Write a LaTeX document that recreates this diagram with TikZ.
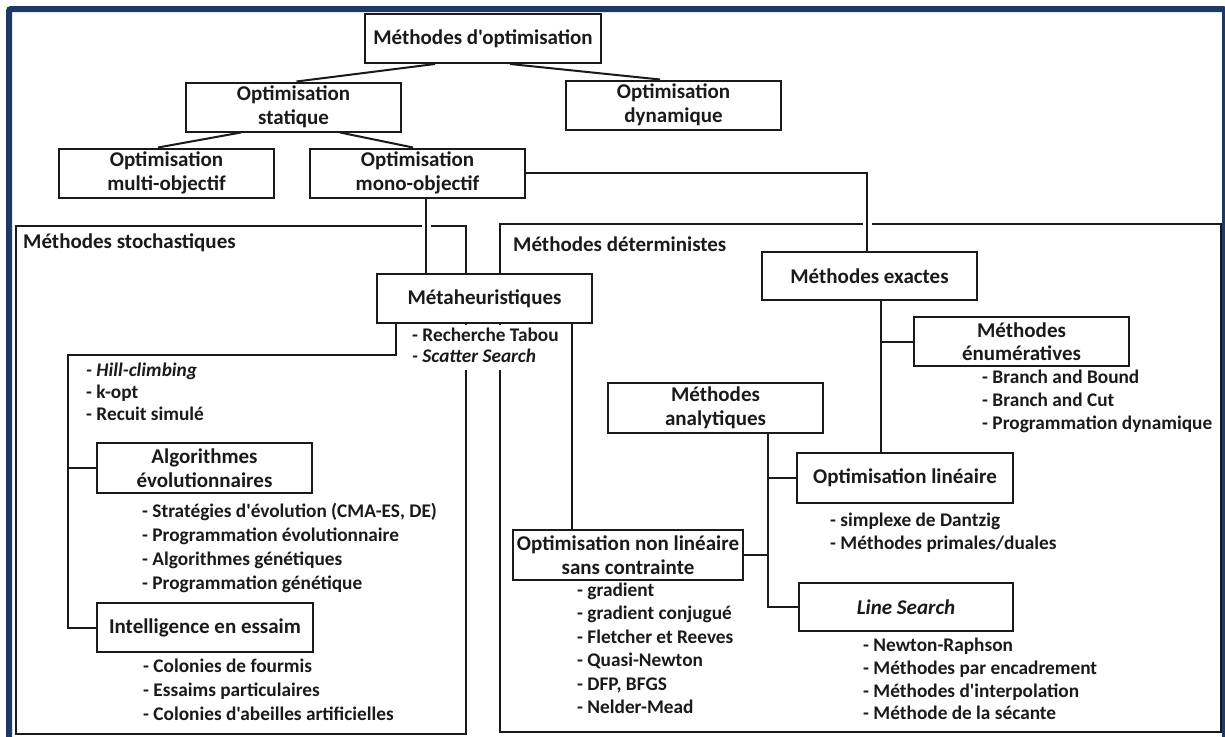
\documentclass[tikz,border=0pt]{standalone}
\usepackage{fontspec}
\setmainfont{Carlito}[Ligatures=TeXOff]
\usetikzlibrary{calc}
\definecolor{navy}{HTML}{1F3864}
\definecolor{ink}{HTML}{1A1A1A}
\pgfdeclarelayer{bgfill}\pgfdeclarelayer{bg}\pgfdeclarelayer{mid}\pgfsetlayers{bgfill,bg,mid,main}
\newcommand\bxfont{\fontsize{21}{23.5}\selectfont\bfseries}
\newcommand\lsfont{\fontsize{19.3}{22}\selectfont\bfseries}
\begin{document}
\begin{tikzpicture}[x=1pt,y=-1pt,
  box/.style={draw=ink, line width=2pt, fill=white, minimum width=215pt, minimum height=49pt, inner xsep=3pt, inner ysep=1pt, align=center, font=\bxfont, text=ink},
  item/.style={anchor=west, inner sep=0pt, font=\lsfont, text=ink, text height=13pt, text depth=4pt},
  conn/.style={draw=ink, line width=2pt},
  halo/.style={preaction={draw=white, line width=9pt}},
  cont/.style={draw=ink, line width=2pt, inner sep=0pt, anchor=north west},
  title/.style={anchor=west, inner sep=0pt, font=\bxfont, text=ink}]
\useasboundingbox (0,0) rectangle (1225,736);
\clip (0,0) rectangle (1225,736);
\begin{pgfonlayer}{bgfill}
\fill[white] (0,0) rectangle (1225,736);
\end{pgfonlayer}
\draw[navy, line width=6pt, rounded corners=2pt] (9,9) rectangle (1225,750);

% boxes
\node[box, minimum width=236pt] (top) at (483,38.5) {Méthodes d'optimisation};
\node[box] (stat) at (293.5,107) {Optimisation\\statique};
\node[box] (dyn) at (673.5,105) {Optimisation\\dynamique};
\node[box] (multi) at (166.5,173) {Optimisation\\multi-objectif};
\node[box] (mono) at (417.5,173) {Optimisation\\mono-objectif};
\node[box] (meta) at (484.5,298.5) {Métaheuristiques};
\node[box, minimum height=48pt] (exact) at (869.5,276) {Méthodes exactes};
\node[box] (enum) at (1021.5,341.5) {Méthodes\\énumératives};
\node[box, minimum height=50pt] (ana) at (715.5,408) {Méthodes\\analytiques};
\node[box, minimum width=216pt, minimum height=50pt] (lin) at (905,478) {Optimisation linéaire};
\node[box, minimum height=50pt] (algo) at (204.5,468) {Algorithmes\\évolutionnaires};
\node[box, minimum width=216pt] (intel) at (205,627.5) {Intelligence en essaim};
\node[box, minimum width=230pt, minimum height=50pt, inner xsep=1pt] (nonlin) at (628,555) {Optimisation non linéaire\\sans contrainte};
\node[box, minimum width=214pt, minimum height=48pt] (ls) at (906,607) {\textit{Line Search}};

% containers
\begin{pgfonlayer}{bg}
\node[cont, minimum width=450pt, minimum height=508pt] (stoch) at (15,225) {};
\node[cont, minimum width=721pt, minimum height=508pt] (det) at (499,223) {};
\end{pgfonlayer}
\node[title] (stochlbl) at (23,243) {Méthodes stochastiques};
\node[title] (detlbl) at (513,244) {Méthodes déterministes};

% connectors
\begin{pgfonlayer}{mid}
\draw[conn] ([xshift=-48pt]top.south) -- ([xshift=3pt]stat.north);
\draw[conn] ([xshift=27pt]top.south) -- ([xshift=-13.5pt]dyn.north);
\draw[conn] ([xshift=-52.5pt]stat.south) -- ([xshift=-8.5pt]multi.north);
\draw[conn] ([xshift=46.5pt]stat.south) -- ([xshift=-4.5pt]mono.north);
\draw[conn, halo] (mono.east) -| ([xshift=-2.5pt]exact.north);
\draw[conn, halo] ([xshift=8.5pt]mono.south) -- ([xshift=8.5pt]mono.south |- meta.north);
\coordinate (lt) at (68,355);
\draw[conn] ([xshift=20pt]meta.south west) |- (lt) |- (intel.west);
\draw[conn] (lt |- algo.west) -- (algo.west);
\draw[conn] ([xshift=-21.5pt]meta.south east) -- ([xshift=-21.5pt]meta.south east |- nonlin.north);
\draw[conn] ([xshift=11.5pt]exact.south) -- ([xshift=11.5pt]exact.south |- lin.north);
\draw[conn] ([xshift=11.5pt]exact.south |- enum.west) -- (enum.west);
\draw[conn] ([xshift=52.5pt]ana.south) |- (ls.west);
\draw[conn] ([xshift=52.5pt]ana.south |- lin.west) -- (lin.west);
\draw[conn] (nonlin.east) -- ([xshift=52.5pt]ana.south |- nonlin.east);
\fill[white] (404,325) rectangle (566,370);
\end{pgfonlayer}

% lists
\node[item] (m1) at (412,337) {- Recherche Tabou};
\node[item] (m2) at (412,358) {\textit{- Scatter Search}};
\node[item] (h1) at (86,372) {\textit{- Hill-climbing}};
\node[item] (h2) at (86,394) {- k-opt};
\node[item] (h3) at (86,416) {- Recuit simulé};
\node[item] (a1) at (142,513) {- Stratégies d'évolution (CMA-ES, DE)};
\node[item] (a2) at (142,537) {- Programmation évolutionnaire};
\node[item] (a3) at (142,561) {- Algorithmes génétiques};
\node[item] (a4) at (142,585) {- Programmation génétique};
\node[item] (i1) at (143,668) {- Colonies de fourmis};
\node[item] (i2) at (143,692) {- Essaims particulaires};
\node[item] (i3) at (143,716) {- Colonies d'abeilles artificielles};
\node[item] (e1) at (982,379) {- Branch and Bound};
\node[item] (e2) at (982,402) {- Branch and Cut};
\node[item] (e3) at (982,425) {- Programmation dynamique};
\node[item] (l1) at (830,522) {- simplexe de Dantzig};
\node[item] (l2) at (830,545) {- Méthodes primales/duales};
\node[item] (n1) at (577,592) {- gradient};
\node[item] (n2) at (577,615) {- gradient conjugué};
\node[item] (n3) at (577,639) {- Fletcher et Reeves};
\node[item] (n4) at (577,662) {- Quasi-Newton};
\node[item] (n5) at (577,686) {- DFP, BFGS};
\node[item] (n6) at (577,709) {- Nelder-Mead};
\node[item] (s1) at (863,647) {- Newton-Raphson};
\node[item] (s2) at (863,670) {- Méthodes par encadrement};
\node[item] (s3) at (863,693) {- Méthodes d'interpolation};
\node[item] (s4) at (863,715) {- Méthode de la sécante};
\end{tikzpicture}
\end{document}
